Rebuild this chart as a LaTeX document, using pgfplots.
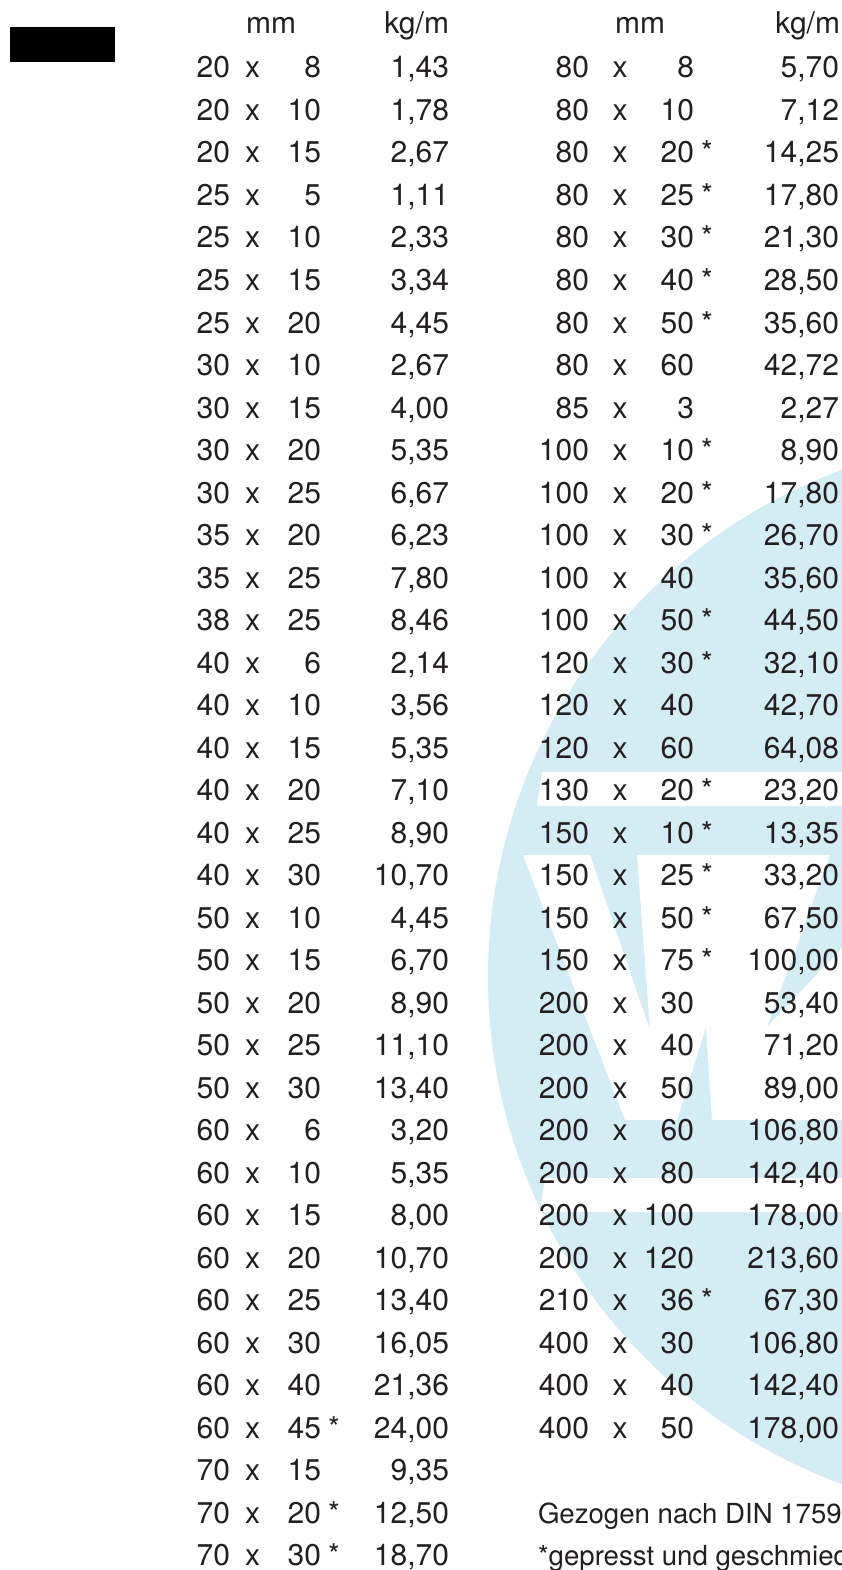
\documentclass[border=0pt]{standalone}
\usepackage{fontspec}
\setmainfont{TeX Gyre Heros}
\usepackage{pgfplots}
\usepackage{pgfplotstable}
\pgfplotsset{compat=1.18}
\definecolor{wm}{RGB}{212,236,244}
\definecolor{ink}{RGB}{35,31,32}

\pgfplotstableread{
r a b w
1 20 8 1,43
2 20 10 1,78
3 20 15 2,67
4 25 5 1,11
5 25 10 2,33
6 25 15 3,34
7 25 20 4,45
8 30 10 2,67
9 30 15 4,00
10 30 20 5,35
11 30 25 6,67
12 35 20 6,23
13 35 25 7,80
14 38 25 8,46
15 40 6 2,14
16 40 10 3,56
17 40 15 5,35
18 40 20 7,10
19 40 25 8,90
20 40 30 10,70
21 50 10 4,45
22 50 15 6,70
23 50 20 8,90
24 50 25 11,10
25 50 30 13,40
26 60 6 3,20
27 60 10 5,35
28 60 15 8,00
29 60 20 10,70
30 60 25 13,40
31 60 30 16,05
32 60 40 21,36
33 60 45 24,00
34 70 15 9,35
35 70 20 12,50
36 70 30 18,70
}\leftdata

\pgfplotstableread{
r a b w
1 80 8 5,70
2 80 10 7,12
3 80 20 14,25
4 80 25 17,80
5 80 30 21,30
6 80 40 28,50
7 80 50 35,60
8 80 60 42,72
9 85 3 2,27
10 100 10 8,90
11 100 20 17,80
12 100 30 26,70
13 100 40 35,60
14 100 50 44,50
15 120 30 32,10
16 120 40 42,70
17 120 60 64,08
18 130 20 23,20
19 150 10 13,35
20 150 25 33,20
21 150 50 67,50
22 150 75 100,00
23 200 30 53,40
24 200 40 71,20
25 200 50 89,00
26 200 60 106,80
27 200 80 142,40
28 200 100 178,00
29 200 120 213,60
30 210 36 67,30
31 400 30 106,80
32 400 40 142,40
33 400 50 178,00
}\rightdata

\pgfplotstableread{
r s
33 *
35 *
36 *
}\leftstars

\pgfplotstableread{
r s
3 *
4 *
5 *
6 *
7 *
10 *
11 *
12 *
14 *
15 *
18 *
19 *
20 *
21 *
22 *
30 *
}\rightstars

\pgfplotstableread[col sep=semicolon]{
x;y;t
271;34;mm
640;34;mm
}\headmm

\pgfplotstableread[col sep=semicolon]{
x;y;t
449;34;kg/m
840;34;kg/m
}\headkg

\pgfplotstableread[col sep=semicolon]{
r;t
35;Gezogen nach DIN 1759
36;*gepresst und geschmiedet
}\footer

\pgfplotsset{
  txt/.style={draw=none, mark=none, point meta=explicit symbolic,
    nodes near coords,
    nodes near coords style={font=\fontsize{30bp}{36bp}\selectfont,
      text=ink, inner sep=0pt, outer sep=0pt, anchor=#1}},
}

\begin{document}
\begin{tikzpicture}
\begin{axis}[at={(0,0)}, anchor=south west, scale only axis,
  width=842bp, height=1570bp,
  xmin=0, xmax=842, ymin=0, ymax=1570, y dir=reverse,
  axis lines=none, xtick=\empty, ytick=\empty]

% watermark: circle centred at (1028,977), radius 540
\addplot[draw=none, fill=wm] coordinates {(1028,977)} circle [radius=540bp];
\addplot[fill=white, draw=none] coordinates {(542,772)(900,772)(900,806)(537,806)} -- cycle;
\addplot[fill=white, draw=none] coordinates {(545,1178)(900,1178)(900,1212)(540,1212)} -- cycle;
\addplot[fill=white, draw=none] coordinates {(523,855)(590,855)(650,1030)(637,855)(830,855)(767,1027)(930,855)(990,855)(990,1120)(712,1120)(706,1027)(677,1120)(625,1120)} -- cycle;

% black box
\addplot[fill=black, draw=none] coordinates {(10,27)(115,27)(115,62)(10,62)} -- cycle;

% headers
\addplot[txt=base] table[x=x, y=y, meta=t] {\headmm};
\addplot[txt=base east] table[x=x, y=y, meta=t] {\headkg};

% left column
\addplot[txt=base east] table[x expr=230, y expr=78+42.5*(\thisrow{r}-1), meta=a] {\leftdata};
\addplot[txt=base, nodes near coords={x}] table[x expr=252.5, y expr=78+42.5*(\thisrow{r}-1), meta=a] {\leftdata};
\addplot[txt=base east] table[x expr=321, y expr=78+42.5*(\thisrow{r}-1), meta=b] {\leftdata};
\addplot[txt=base west] table[x expr=328, y expr=78+42.5*(\thisrow{r}-1), meta=s] {\leftstars};
\addplot[txt=base east] table[x expr=449, y expr=78+42.5*(\thisrow{r}-1), meta=w] {\leftdata};

% right column
\addplot[txt=base east] table[x expr=589, y expr=78+42.5*(\thisrow{r}-1), meta=a] {\rightdata};
\addplot[txt=base, nodes near coords={x}] table[x expr=620, y expr=78+42.5*(\thisrow{r}-1), meta=a] {\rightdata};
\addplot[txt=base east] table[x expr=694, y expr=78+42.5*(\thisrow{r}-1), meta=b] {\rightdata};
\addplot[txt=base west] table[x expr=701, y expr=78+42.5*(\thisrow{r}-1), meta=s] {\rightstars};
\addplot[txt=base east] table[x expr=839, y expr=78+42.5*(\thisrow{r}-1), meta=w] {\rightdata};

% footer
\addplot[txt=base west, nodes near coords style={font=\fontsize{27.6bp}{33bp}\selectfont}] table[x expr=538, y expr=78+42.5*(\thisrow{r}-1), meta=t] {\footer};
\end{axis}
\pgfresetboundingbox
\useasboundingbox (0,0) rectangle (842bp,1570bp);
\end{tikzpicture}
\end{document}
